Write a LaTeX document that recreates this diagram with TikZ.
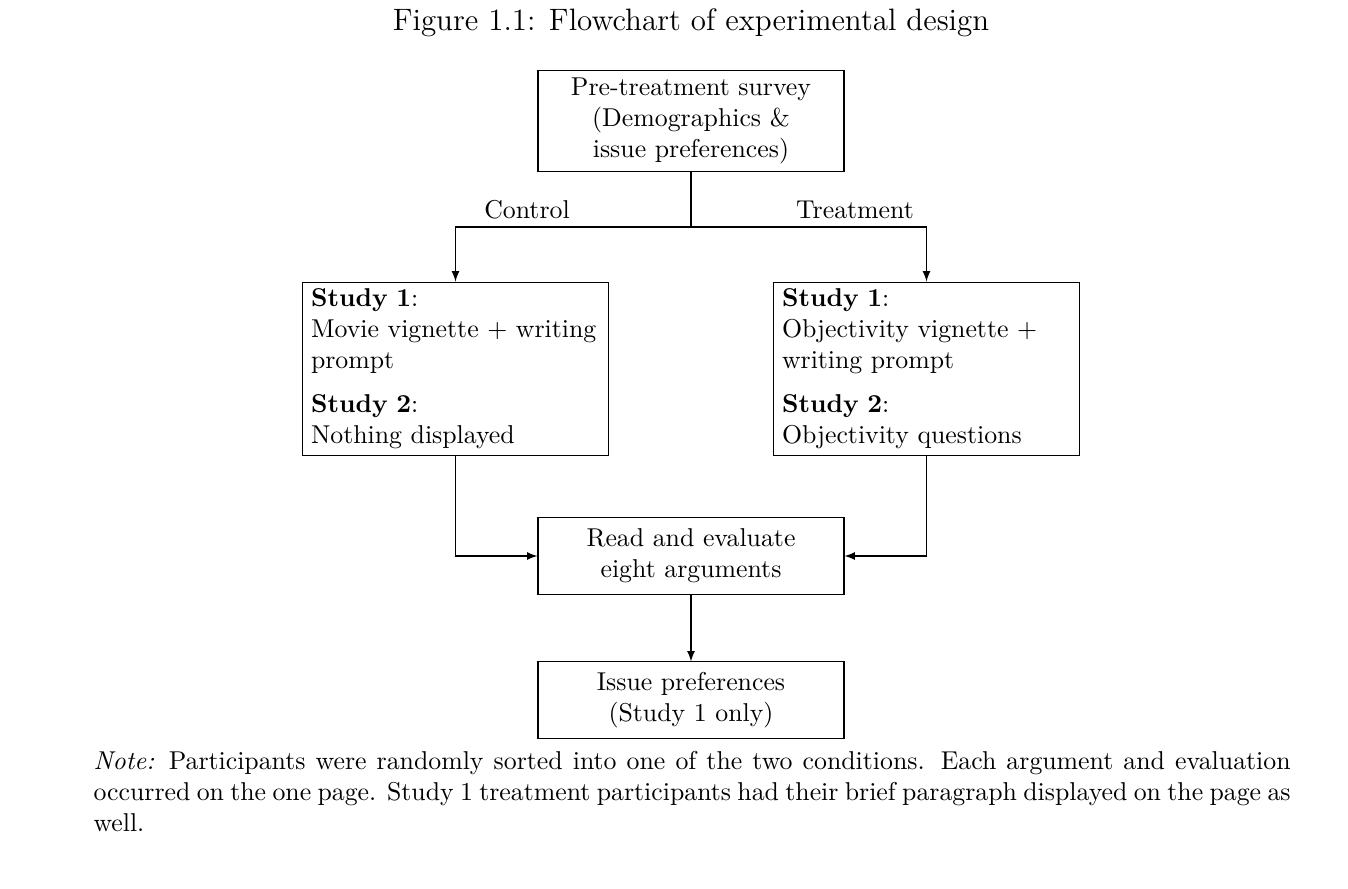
\documentclass[tikz,border=0pt]{standalone}
\usetikzlibrary{positioning}
\begin{document}
\begin{tikzpicture}[x=0.3876pt, y=-0.3876pt,
  box/.style={draw, inner xsep=3.3pt, inner ysep=2pt},
  cbox/.style={box, align=center, text width=112pt},
  lbox/.style={box, align=left, text width=112pt},
  lbl/.style={inner sep=0pt},
  >=latex]
\useasboundingbox (0,0) rectangle (1348,888);
\node[lbl, font=\large] (cap) at (691,23) {Figure 1.1: Flowchart of experimental design};
\node[cbox, minimum height=39.5pt] (top) at (691,121) {Pre-treatment survey\\(Demographics \&\\issue preferences)};
\node[lbox, minimum height=67.4pt] (left) at (455.5,369) {\textbf{Study 1}:\\Movie vignette $+$ writing\\prompt\\[5pt]\textbf{Study 2}:\\Nothing displayed};
\node[lbox, minimum height=67.4pt] (right) at (926.5,369) {\textbf{Study 1}:\\Objectivity vignette $+$\\writing prompt\\[5pt]\textbf{Study 2}:\\Objectivity questions};
\node[cbox, minimum height=29.5pt] (mid) at (691,556) {Read and evaluate\\eight arguments};
\node[cbox, minimum height=29.5pt] (bot) at (691,700) {Issue preferences\\(Study 1 only)};
\coordinate (split) at (691,227);
\node[lbl] (ctl) at (527,210) {Control};
\node[lbl] (trt) at (855,210) {Treatment};
\draw (top.south) -- (split);
\draw[->] (split) -| (left.north);
\draw[->] (split) -| (right.north);
\draw[->] (left.south) |- (mid.west);
\draw[->] (right.south) |- (mid.east);
\draw[->] (mid.south) -- (bot.north);
\node[lbl, anchor=north west, text width=464pt, align=justify] (note) at (93,751)
 {\textit{Note:} Participants were randomly sorted into one of the two conditions. Each argument and evaluation\linebreak occurred on the one page. Study 1 treatment participants had their brief paragraph displayed on the page as\linebreak well.};
\end{tikzpicture}
\end{document}
